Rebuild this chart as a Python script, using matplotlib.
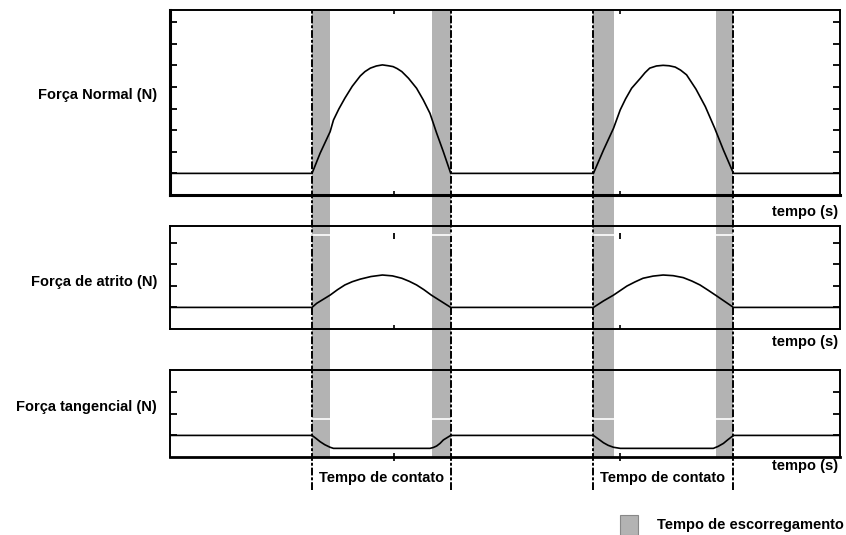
import matplotlib
matplotlib.use('Agg')
import matplotlib.pyplot as plt
from matplotlib.patches import Rectangle

plt.rcParams['font.family'] = ['Liberation Sans', 'DejaVu Sans']
plt.rcParams['font.weight'] = 'bold'

# ---------------- data ----------------
t_limits = (0.0, 10.0)
slip_bands = [(2.12, 2.39), (3.91, 4.19), (6.31, 6.63), (8.15, 8.40)]
contact_bounds = [2.12, 4.19, 6.31, 8.40]
contact_labels = ["Tempo de contato", "Tempo de contato"]
time_ticks = [3.34, 6.72]

normal_t = [0, 2.12, 2.24, 2.39, 2.44, 2.52, 2.61, 2.72, 2.84, 2.91, 2.99, 3.08,
            3.17, 3.26, 3.33, 3.39, 3.46, 3.56, 3.68, 3.78, 3.88, 3.98, 4.08,
            4.19, 6.32, 6.47, 6.62, 6.72, 6.80, 6.89, 7.02, 7.09, 7.16, 7.26,
            7.36, 7.45, 7.54, 7.62, 7.71, 7.85, 7.99, 8.13, 8.26, 8.41, 10]
normal_y = [1, 1, 1.93, 2.93, 3.47, 3.98, 4.48, 5.03, 5.51, 5.71, 5.87, 5.97,
            6.02, 5.98, 5.94, 5.85, 5.71, 5.40, 4.94, 4.40, 3.78, 2.86, 2.0,
            1, 1, 2.08, 3.09, 3.94, 4.45, 4.94, 5.40, 5.66, 5.87, 5.97,
            6.0, 5.98, 5.92, 5.78, 5.56, 4.90, 4.09, 3.09, 2.08, 1, 1]

atrito_t = [0, 2.12, 2.19, 2.39, 2.50, 2.61, 2.72, 2.84, 3.00, 3.17, 3.32, 3.46,
            3.57, 3.68, 3.79, 3.90, 4.19, 6.32, 6.47, 6.62, 6.82, 6.94, 7.06,
            7.21, 7.36, 7.51, 7.66, 7.79, 7.91, 8.03, 8.16, 8.41, 10]
atrito_y = [1, 1, 1.19, 1.57, 1.82, 2.04, 2.19, 2.31, 2.43, 2.5, 2.46, 2.35,
            2.21, 2.04, 1.82, 1.57, 1, 1, 1.30, 1.57, 1.99, 2.18, 2.35,
            2.45, 2.5, 2.47, 2.38, 2.22, 2.04, 1.80, 1.53, 1, 1]

tang_t = [0, 2.12, 2.18, 2.24, 2.31, 2.39, 2.44, 3.88, 3.93, 3.98, 4.03, 4.08,
          4.19, 6.32, 6.40, 6.47, 6.54, 6.62, 6.72, 8.11, 8.18, 8.26, 8.33,
          8.41, 10]
tang_y = [1, 1, 0.86, 0.71, 0.57, 0.45, 0.40, 0.40, 0.44, 0.51, 0.63, 0.79,
          1, 1, 0.82, 0.66, 0.54, 0.45, 0.40, 0.40, 0.49, 0.63, 0.81,
          1, 1]

panel_labels = ["Força Normal (N)", "Força de atrito (N)", "Força tangencial (N)"]
xlabel = "tempo (s)"
legend_label = "Tempo de escorregamento"

ylims = [(0, 8.56), (0, 4.77), (0, 4.03)]
yticks = [[1, 2, 3, 4, 5, 6, 7, 8], [1, 2, 3, 4], [1, 2, 3]]

# ---------------- layout ----------------
W, H = 846, 535
fig = plt.figure(figsize=(W / 100, H / 100), dpi=100)

def fx(px):
    return px / W

def fy(py):
    return 1 - py / H

x0, x1 = 170, 840
gray = '#b3b3b3'
FS = 10.5

# background axes for slip bands & contact lines (pixel-from-top y units)
bg_top, bg_bot = 10, 495
bg = fig.add_axes([fx(x0), fy(bg_bot), fx(x1) - fx(x0), (bg_bot - bg_top) / H])
bg.set_xlim(*t_limits)
bg.set_ylim(bg_bot, bg_top)
bg.axis('off')
band_bottom = 457
for a, b in slip_bands:
    bg.axvspan(a, b, ymin=(bg_bot - band_bottom) / (bg_bot - bg_top), ymax=1,
               color=gray, lw=0, zorder=1)
for c in contact_bounds:
    bg.axvline(c, ymin=(bg_bot - 490) / (bg_bot - bg_top), ymax=1, color='black',
               lw=1.4, linestyle=(0, (4, 1, 1.5, 1)), zorder=3)

panels = [(10, 195), (226, 329), (370, 457)]
series = [(normal_t, normal_y), (atrito_t, atrito_y), (tang_t, tang_y)]
label_y = [95, 282, 407]
xlabel_y = [212, 342, 466]
white_lines = [None, 4.35, 1.76]

for i, ((top, bot), (ts, ys)) in enumerate(zip(panels, series)):
    ax = fig.add_axes([fx(x0), fy(bot), fx(x1) - fx(x0), (bot - top) / H])
    ax.set_facecolor('none')
    ax.set_xlim(*t_limits)
    ax.set_ylim(*ylims[i])
    ax.plot(ts, ys, color='black', lw=1.2, zorder=4, solid_joinstyle='round')
    if white_lines[i] is not None:
        ax.axhline(white_lines[i], color='white', lw=1.2, zorder=2)
    ax.set_yticks(yticks[i])
    ax.tick_params(axis='y', which='both', direction='in', length=5, width=1.3,
                   left=True, right=True, labelleft=False, labelright=False)
    ax.set_xticks(time_ticks)
    if i == 0:
        ax.tick_params(axis='x', direction='in', length=3, width=1.2,
                       top=True, bottom=True, labelbottom=False)
    elif i == 1:
        ax.tick_params(axis='x', direction='in', length=3, width=1.2,
                       top=False, bottom=True, labelbottom=False)
        ax.plot(time_ticks, [4.33] * len(time_ticks), ls='none', marker='|',
                ms=4, mew=1.3, color='black')
    else:
        ax.tick_params(axis='x', direction='inout', length=6, width=1.2,
                       top=False, bottom=True, labelbottom=False)
    for s in ax.spines.values():
        s.set_linewidth(1.4)
        s.set_zorder(5)
    if i == 0:
        ax.spines['left'].set_linewidth(2.2)
        ax.spines['bottom'].set_linewidth(2.2)
    if i == 2:
        ax.spines['bottom'].set_linewidth(2.0)
    fig.text(fx(157), fy(label_y[i]), panel_labels[i], ha='right', va='center',
             fontsize=FS, fontweight='bold')
    fig.text(fx(838), fy(xlabel_y[i]), xlabel, ha='right', va='center',
             fontsize=FS, fontweight='bold')

# contact time labels
for k, lab in enumerate(contact_labels):
    mid = (contact_bounds[2 * k] + contact_bounds[2 * k + 1]) / 2
    bg.text(mid, 478, lab, ha='center', va='center', fontsize=FS, fontweight='bold')

# legend
fig.add_artist(Rectangle((fx(620), fy(535)), fx(638) - fx(620), (535 - 515) / H,
                         transform=fig.transFigure, facecolor=gray,
                         edgecolor='#888888', lw=0.8))
fig.text(fx(657), fy(525), legend_label, ha='left', va='center', fontsize=FS,
         fontweight='bold')

fig.savefig('out.png', dpi=100)
